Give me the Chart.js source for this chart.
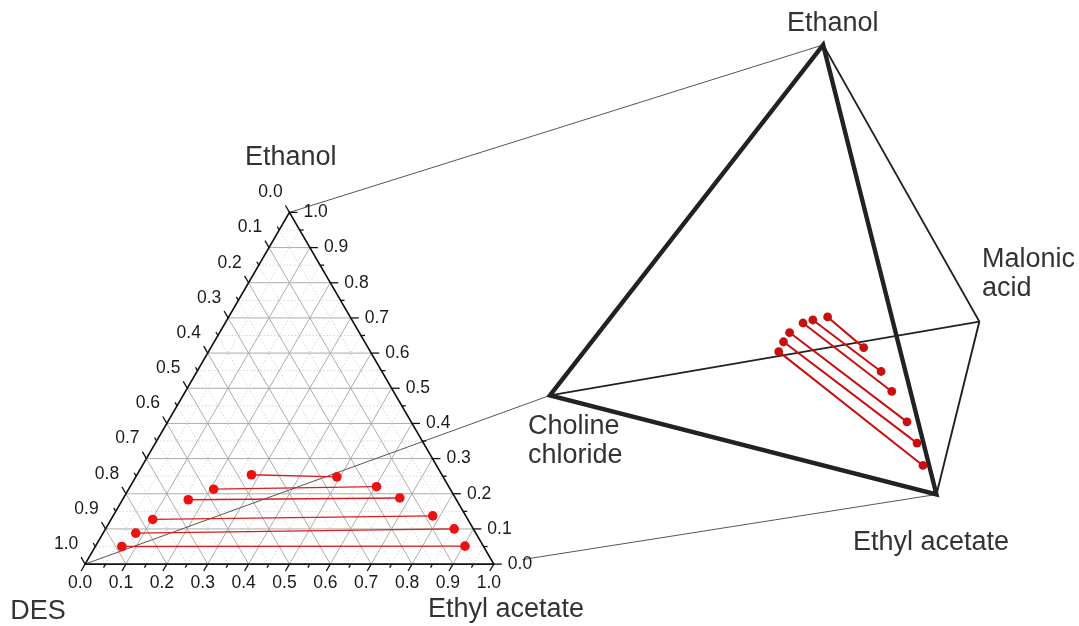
<!DOCTYPE html>
<html>
<head>
<meta charset="utf-8">
<script src="https://cdn.jsdelivr.net/npm/chart.js@4.4.0/dist/chart.umd.min.js"></script>
<style>
  html, body { margin: 0; padding: 0; background: #fff; }
  #wrap { width: 1079px; height: 626px; }
</style>
</head>
<body>
<div id="wrap"><canvas id="fig" width="1079" height="626"></canvas></div>
<script>
// tie-line compositions (fractions)
const tieLines = ['1', '2', '3', '4', '5', '6'];
const ethanolDES = [0.254, 0.213, 0.183, 0.127, 0.088, 0.050];
const acetateDES = [0.280, 0.208, 0.161, 0.102, 0.080, 0.065];
const ethanolEA = [0.248, 0.220, 0.188, 0.137, 0.100, 0.051];
const acetateEA = [0.492, 0.603, 0.676, 0.782, 0.853, 0.904];

const tickLabels = ['0.0', '0.1', '0.2', '0.3', '0.4', '0.5', '0.6', '0.7', '0.8', '0.9', '1.0'];

// layout (figure units = pixels)
const W = 1079, H = 626;
const TERN = { x0: 81, y0: 568, side: 412.4 };
const TETRA = {
  ethanol: { x: 825.7, y: 40.7 },
  choline: { x: 550, y: 396.7 },
  acetate: { x: 940, y: 497.3 },
  malonic: { x: 983.3, y: 321.7 }
};
const FONT = '"Liberation Sans", Arial, sans-serif';

function tern(ea, et) {
  return { x: TERN.x0 + TERN.side * (ea + et / 2), y: TERN.y0 - TERN.side * 0.8660254 * et };
}

// DES sits halfway along the choline chloride - malonic acid edge
function tetra(ea, et) {
  const d = 1 - ea - et;
  const mx = (TETRA.choline.x + TETRA.malonic.x) / 2;
  const my = (TETRA.choline.y + TETRA.malonic.y) / 2;
  return {
    x: et * TETRA.ethanol.x + ea * TETRA.acetate.x + d * mx,
    y: et * TETRA.ethanol.y + ea * TETRA.acetate.y + d * my
  };
}

function lerp(a, b, t) {
  return { x: a.x + (b.x - a.x) * t, y: a.y + (b.y - a.y) * t };
}

function seg(points, color, width, order, dash) {
  return {
    data: points,
    showLine: true,
    borderColor: color,
    borderWidth: width,
    borderDash: dash || [],
    borderJoinStyle: 'miter',
    pointRadius: 0,
    order: order
  };
}

var datasets = [];

// ternary grid
for (let i = 1; i < 20; i++) {
  const v = i / 20;
  const major = i % 2 === 0;
  const col = major ? '#ababab' : '#cccccc';
  const w = major ? 1 : 0.8;
  const dash = major ? [] : [1.5, 2];
  datasets.push(seg([tern(0, v), tern(1 - v, v)], col, w, 9, dash));
  datasets.push(seg([tern(v, 0), tern(v, 1 - v)], col, w, 9, dash));
  datasets.push(seg([tern(1 - v, 0), tern(0, 1 - v)], col, w, 9, dash));
}

// ternary frame
datasets.push(seg([tern(0, 0), tern(1, 0), tern(0, 1), tern(0, 0), tern(1, 0)], '#111', 1.7, 5));

// connector lines to the tetrahedron
datasets.push(seg([tern(0, 1), TETRA.ethanol], '#555', 1, 6));
datasets.push(seg([tern(0, 0), TETRA.choline], '#555', 1, 6));
datasets.push(seg([lerp(tern(1, 0), TETRA.acetate, 0.065), TETRA.acetate], '#555', 1, 6));

// tetrahedron edges
datasets.push(seg([TETRA.choline, TETRA.ethanol, TETRA.acetate, TETRA.choline, TETRA.ethanol], '#222', 4.4, 4));
datasets.push(seg([TETRA.acetate, TETRA.malonic, TETRA.ethanol], '#222', 1.9, 4));
datasets.push(seg([TETRA.choline, TETRA.malonic], '#222', 1.8, 4));

// tie lines
tieLines.forEach(function (name, i) {
  datasets.push({
    label: 'tie ' + name,
    data: [tern(acetateDES[i], ethanolDES[i]), tern(acetateEA[i], ethanolEA[i])],
    showLine: true,
    borderColor: '#d81e1e',
    borderWidth: 1.3,
    pointRadius: 4.8,
    pointBackgroundColor: '#ee1111',
    pointBorderWidth: 0,
    order: 1
  });
  datasets.push({
    label: 'tetra ' + name,
    data: [tetra(acetateDES[i], ethanolDES[i]), tetra(acetateEA[i], ethanolEA[i])],
    showLine: true,
    borderColor: '#c80f0f',
    borderWidth: 2,
    pointRadius: 4.4,
    pointBackgroundColor: '#c80f0f',
    pointBorderWidth: 0,
    order: 0
  });
});

const overlay = {
  id: 'overlay',
  afterDatasetsDraw(chart) {
    const ctx = chart.ctx;
    const sx = chart.scales.x, sy = chart.scales.y;
    const px = p => ({ x: sx.getPixelForValue(p.x), y: sy.getPixelForValue(p.y) });
    ctx.save();

    // ticks on the three ternary axes
    ctx.strokeStyle = '#111';
    ctx.lineWidth = 1.3;
    function tick(p, dx, dy) {
      const a = px(p);
      ctx.beginPath();
      ctx.moveTo(a.x, a.y);
      ctx.lineTo(a.x + dx, a.y + dy);
      ctx.stroke();
    }
    for (let i = 0; i <= 20; i++) {
      const v = i / 20;
      const len = i % 2 ? 4 : 8;
      tick(tern(v, 0), -0.5 * len, 0.866 * len);      // ethyl acetate
      tick(tern(1 - v, v), len, 0);                    // ethanol
      tick(tern(0, 1 - v), -0.5 * len, -0.866 * len);  // DES
    }

    // tick labels
    ctx.fillStyle = '#1a1a1a';
    ctx.font = '17.5px ' + FONT;
    ctx.textBaseline = 'middle';
    tickLabels.forEach(function (lab) {
      const v = parseFloat(lab);
      let a = px(tern(v, 0));
      ctx.textAlign = 'center';
      ctx.fillText(lab, a.x - 5, a.y + 19);
      a = px(tern(1 - v, v));
      ctx.textAlign = 'left';
      ctx.fillText(lab, a.x + 14, a.y);
      a = px(tern(0, 1 - v));
      ctx.textAlign = 'center';
      ctx.fillText(lab, a.x - 19, a.y - 20);
    });

    // component names
    ctx.fillStyle = '#333';
    ctx.font = '27px ' + FONT;
    ctx.textBaseline = 'middle';
    ctx.textAlign = 'center';
    ctx.fillText('Ethanol', 290.7, 158);
    ctx.fillText('DES', 38, 612);
    ctx.fillText('Ethanol', 832.7, 24);
    ctx.textAlign = 'left';
    ctx.fillText('Ethyl acetate', 428, 610);
    ctx.textBaseline = 'alphabetic';
    ctx.fillText('Choline', 528, 434);
    ctx.fillText('chloride', 528, 463);
    ctx.fillText('Malonic', 982, 267);
    ctx.fillText('acid', 982, 296);
    ctx.fillText('Ethyl acetate', 853, 550);
    ctx.restore();
  }
};

new Chart(document.getElementById('fig'), {
  type: 'scatter',
  data: { datasets: datasets },
  options: {
    responsive: false,
    animation: false,
    events: [],
    layout: { padding: 0 },
    scales: {
      x: { type: 'linear', min: 0, max: W, display: false },
      y: { type: 'linear', min: 0, max: H, reverse: true, display: false }
    },
    plugins: { legend: { display: false }, tooltip: { enabled: false } }
  },
  plugins: [overlay]
});
</script>
</body>
</html>
